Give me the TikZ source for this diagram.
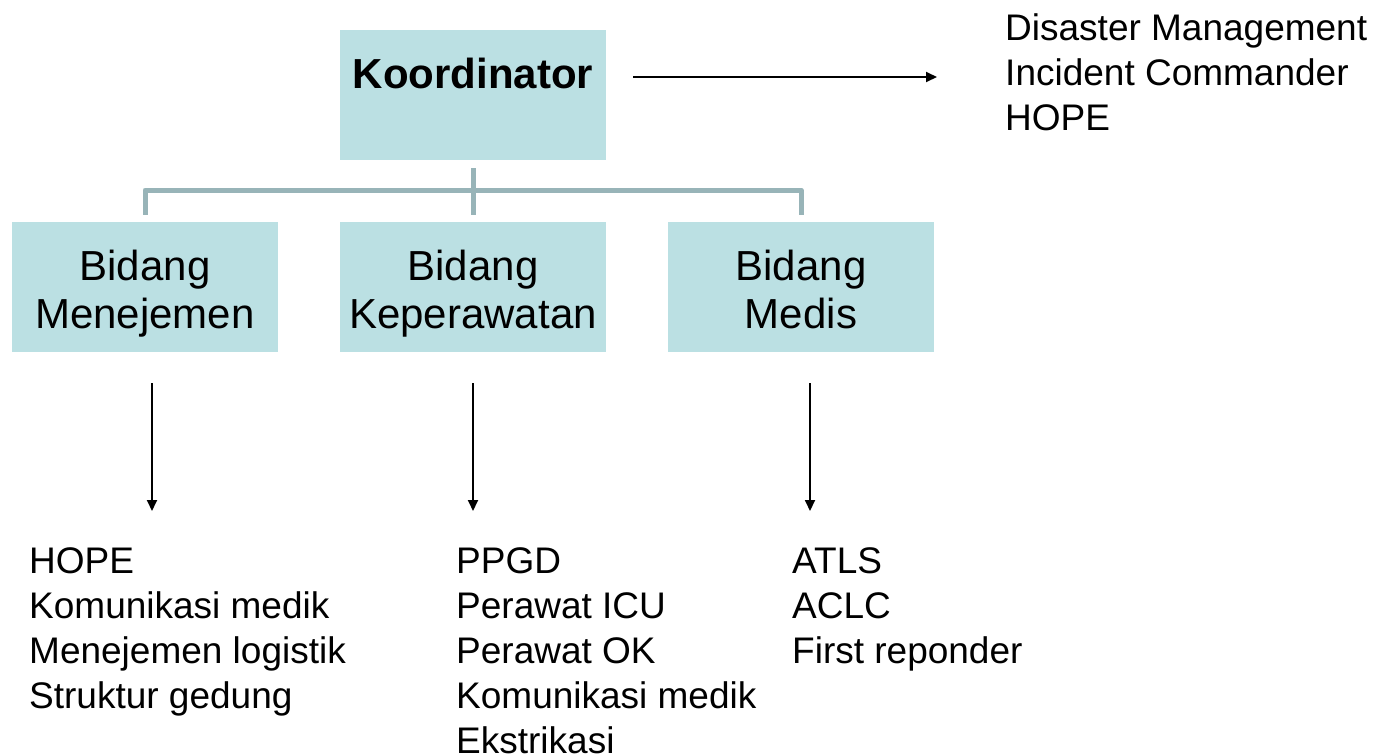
\documentclass[tikz,border=0pt]{standalone}
\usepackage{fontspec}
\setmainfont{Liberation Sans}
\usetikzlibrary{arrows.meta}
\definecolor{boxfill}{HTML}{BBE0E3}
\definecolor{linkcol}{HTML}{98B4B8}
\newcommand{\topfix}{\rule{0pt}{44pt}}
\newcommand{\botfix}{\rule[-10pt]{0pt}{10pt}}
\begin{document}
\begin{tikzpicture}[x=1pt,y=-1pt,
  box/.style={fill=boxfill,draw=none,minimum width=266pt,minimum height=130pt,inner sep=0pt,align=center,font=\fontsize{42}{48}\selectfont},
  link/.style={draw=linkcol,line width=5pt},
  arr/.style={draw=black,line width=1.8pt,-{Triangle[length=11pt,width=10pt]}},
  list/.style={anchor=north west,inner sep=0pt,align=left,font=\fontsize{37}{45}\selectfont}]
\useasboundingbox (0,0) rectangle (1375,753);
% boxes
\node[box] (koord) at (473,95) {};
\node[anchor=base,inner sep=0pt,font=\fontsize{42}{48}\selectfont\bfseries] (koordtxt) at (473,88) {Koordinator};
\node[box] (men) at (145,287) {\topfix Bidang\\Menejemen\botfix};
\node[box] (kep) at (473,287) {\topfix Bidang\\Keperawatan\botfix};
\node[box] (med) at (801,287) {\topfix Bidang\\Medis\botfix};
% org connectors
\coordinate (hl) at (145,190);
\coordinate (hr) at (801,190);
\draw[link] ([yshift=-8pt]koord.south) -- ([yshift=7pt]kep.north);
\draw[link,line join=round] ([yshift=7pt]men.north) -- (hl) -- (hr) -- ([yshift=7pt]med.north);
% right arrow and text
\node[list] (top) at (1005,13) {Disaster Management\\Incident Commander\\HOPE};
\coordinate (ra) at (633,77);
\coordinate (rb) at (937,77);
\draw[arr] (ra) -- (rb);
% down arrows
\coordinate (a1) at (152,383); \coordinate (b1) at (152,511);
\coordinate (a2) at (473,383); \coordinate (b2) at (473,511);
\coordinate (a3) at (810,383); \coordinate (b3) at (810,511);
\draw[arr] (a1) -- (b1);
\draw[arr] (a2) -- (b2);
\draw[arr] (a3) -- (b3);
% lists
\node[list] (l1) at (29,547) {HOPE\\Komunikasi medik\\Menejemen logistik\\Struktur gedung};
\node[list] (l2) at (456,547) {PPGD\\Perawat ICU\\Perawat OK\\Komunikasi medik\\Ekstrikasi};
\node[list] (l3) at (792,547) {ATLS\\ACLC\\First reponder};
\end{tikzpicture}
\end{document}
